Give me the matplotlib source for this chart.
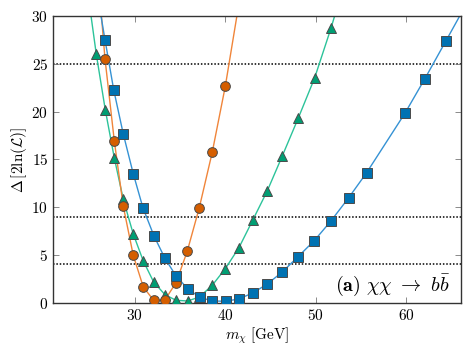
import numpy as np
import matplotlib
matplotlib.use("Agg")
import matplotlib.pyplot as plt
from matplotlib.ticker import FuncFormatter

# values
green_m = [25.78, 26.77, 27.77, 28.76, 29.86, 30.97, 32.11, 33.36, 34.58, 35.87,
           37.17, 38.58, 40.02, 41.53, 43.04, 44.65, 46.31, 48.07, 49.88, 51.68]
green_dl = [26.0, 20.2, 15.14, 10.82, 7.19, 4.36, 2.17, 0.84, 0.25, 0.18,
            0.6, 1.82, 3.56, 5.76, 8.62, 11.69, 15.35, 19.3, 23.51, 28.7]

orange_m = [26.74, 27.77, 28.76, 29.86, 30.97, 32.11, 33.33, 34.58, 35.82,
            37.15, 38.58, 40.02]
orange_dl = [25.53, 16.92, 10.09, 4.96, 1.64, 0.25, 0.25, 2.09, 5.38,
             9.94, 15.74, 22.64]

blue_m = [26.74, 27.70, 28.76, 29.86, 30.93, 32.15, 33.36, 34.61, 35.87, 37.19,
          38.58, 40.06, 41.50, 43.04, 44.65, 46.31, 48.07, 49.84, 51.68, 53.64,
          55.62, 59.85, 62.06, 64.38]
blue_dl = [27.52, 22.29, 17.65, 13.5, 9.93, 6.98, 4.64, 2.76, 1.47, 0.57,
           0.18, 0.15, 0.39, 1.01, 1.95, 3.21, 4.83, 6.49, 8.55, 10.98,
           13.6, 19.82, 23.45, 27.4]

# where each curve leaves the top/right of the frame
green_ends = [(25.2, 30.0), (52.09, 30.0)]
orange_ends = [(26.35, 30.0), (41.3, 30.0)]
blue_ends = [(26.3, 30.0), (65.9, 30.0)]

levels = [25, 9, 4]

plt.rcParams.update({
    "font.family": "serif",
    "font.serif": ["DejaVu Serif"],
    "mathtext.fontset": "cm",
    "font.size": 10,
    "axes.linewidth": 1.0,
})

fig = plt.figure(figsize=(4.71, 3.53), dpi=100)
ax = fig.add_axes([0.1125, 0.1425, 0.8655, 0.8122])

for y in levels:
    ax.axhline(y, color="black", linestyle=(0, (1, 1.2)), linewidth=1.1, zorder=1)


def curve(m, dl, ends, lc, fc, marker, ms):
    xs = [ends[0][0]] + list(m) + [ends[1][0]]
    ys = [ends[0][1]] + list(dl) + [ends[1][1]]
    ax.plot(xs, ys, color=lc, linewidth=1.0, zorder=2)
    ax.plot(m, dl, linestyle="none", marker=marker, markersize=ms,
            markerfacecolor=fc, markeredgecolor="#4a4a4a", markeredgewidth=0.7,
            zorder=3)


curve(green_m, green_dl, green_ends, "#2cc39a", "#009e73", "^", 6.8)
curve(orange_m, orange_dl, orange_ends, "#f0853a", "#d55e00", "o", 7)
curve(blue_m, blue_dl, blue_ends, "#3592d4", "#0072b2", "s", 6.8)

ax.set_xlim(21, 66)
ax.set_ylim(0, 30)
ax.set_xticks([30, 40, 50, 60])
ax.set_yticks([0, 5, 10, 15, 20, 25, 30])
bold = FuncFormatter(lambda v, p: r"$\mathbf{%d}$" % v)
ax.xaxis.set_major_formatter(bold)
ax.yaxis.set_major_formatter(bold)
ax.tick_params(direction="in", top=True, right=True, length=4, width=0.6,
               labelsize=11, color="#777777")
for s in ax.spines.values():
    s.set_color("#333333")

ax.set_xlabel(r"$m_\chi\ [\mathrm{GeV}]$", fontsize=11, labelpad=2)
ax.set_ylabel(r"$\Delta\,[2\ln(\mathcal{L})]$", fontsize=11, labelpad=2)

ax.text(0.975, 0.018, r"$\mathbf{(a)}\ \chi\chi\ \rightarrow\ b\bar{b}$",
        transform=ax.transAxes, ha="right", va="bottom", fontsize=14.5)

fig.savefig("out.png", dpi=100)
